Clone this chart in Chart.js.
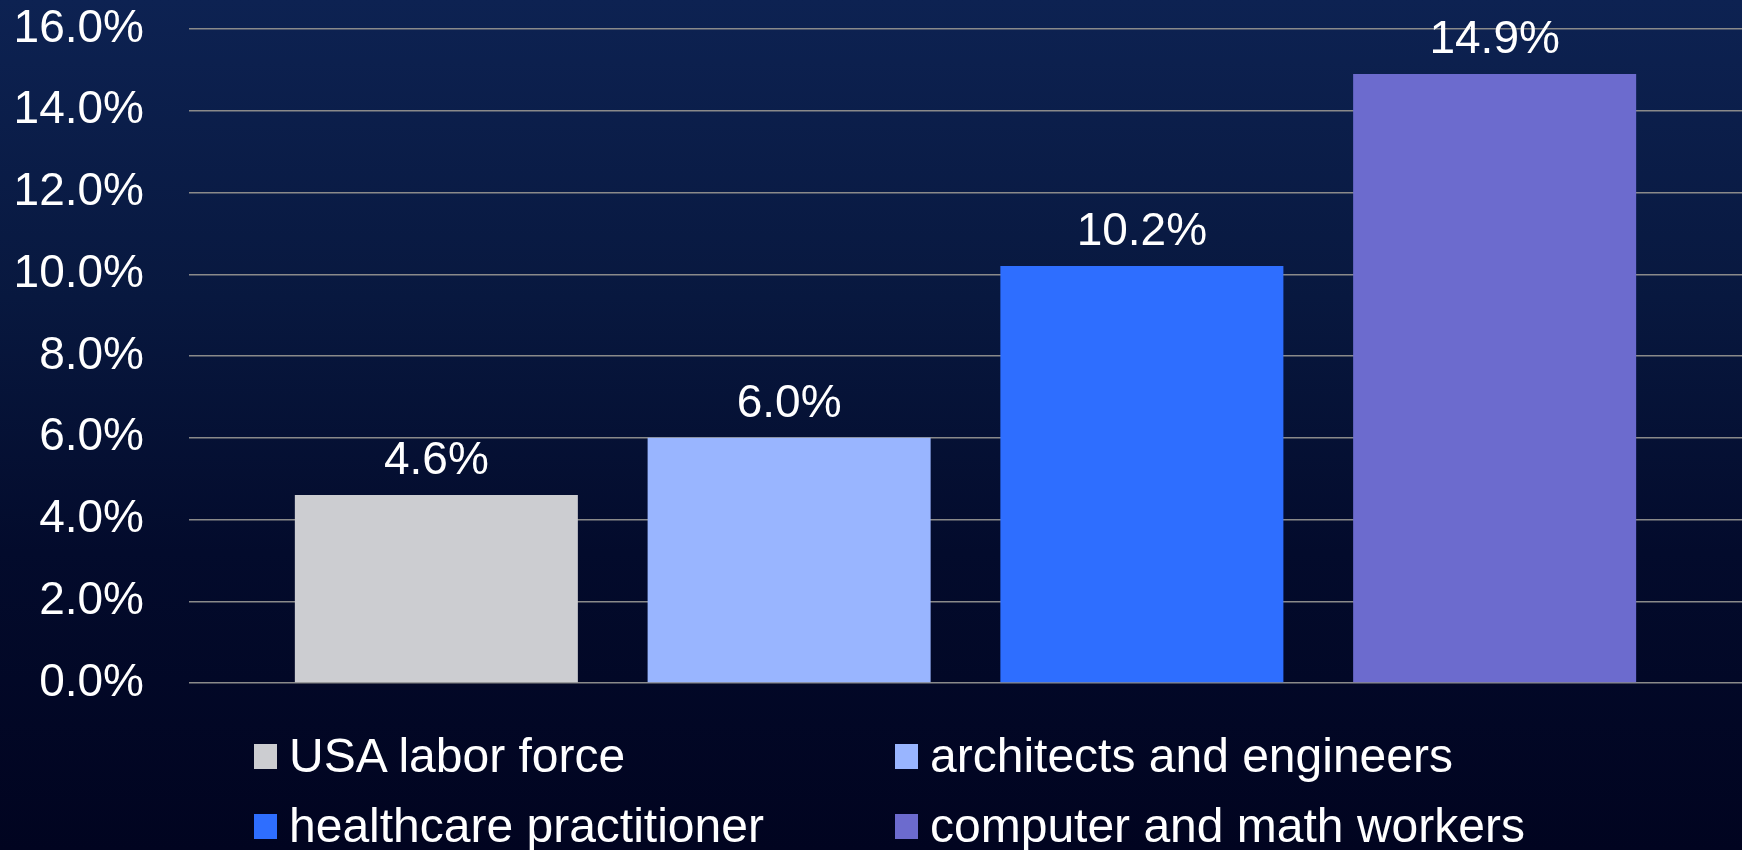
<!DOCTYPE html>
<html>
<head>
<meta charset="utf-8">
<script src="https://cdn.jsdelivr.net/npm/chart.js@4"></script>
<style>
    html, body {
        margin: 0;
        padding: 0;
        width: 1742px;
        height: 850px;
        overflow: hidden;
    }

    body {
        background: linear-gradient(to bottom, #0d2252 0%, #08183f 35%, #030b2c 65%, #010420 100%);
        font-family: "Liberation Sans", Arial, sans-serif;
        position: relative;
    }

    #wrap {
        position: absolute;
        left: 0;
        top: 0;
        width: 1742px;
        height: 850px;
    }

    #leyenda {
        position: absolute;
        left: 254px;
        top: 721px;
        display: grid;
        grid-template-columns: 641px 600px;
        grid-auto-rows: 70px;
        color: #ffffff;
        font-size: 48px;
        line-height: 70px;
    }

    .item {
        display: flex;
        align-items: center;
        white-space: nowrap;
    }

    .caja {
        width: 23px;
        height: 25px;
        margin-right: 12px;
        flex: none;
    }
</style>
</head>
<body>
<div id="wrap"><canvas id="grafico"></canvas></div>
<div id="leyenda"></div>

<script>
const series = ["USA labor force", "architects and engineers", "healthcare practitioner", "computer and math workers"];
const valores = [4.6, 6.0, 10.2, 14.9];
const colores = ["#cccdd1", "#99b5ff", "#2e6eff", "#6c6bce"];
const categorias = [""];
const ticksY = [0, 2, 4, 6, 8, 10, 12, 14, 16];

const fuente = "'Liberation Sans', Arial, sans-serif";

// Etiquetas de valor encima de cada barra.
const etiquetasBarras = {
    id: "etiquetasBarras",
    afterDatasetsDraw(chart) {
        const ctx = chart.ctx;
        ctx.save();
        ctx.fillStyle = "#ffffff";
        ctx.font = `46px ${fuente}`;
        ctx.textAlign = "center";
        ctx.textBaseline = "alphabetic";

        chart.data.datasets.forEach((ds, i) => {
            const meta = chart.getDatasetMeta(i);
            meta.data.forEach((barra, j) => {
                ctx.fillText(`${Number(ds.data[j]).toFixed(1)}%`, barra.x, barra.y - 21);
            });
        });

        ctx.restore();
    }
};

new Chart(document.getElementById("grafico"), {
    type: "bar",

    data: {
        labels: categorias,
        datasets: series.map((nombre, i) => ({
            label: nombre,
            data: [valores[i]],
            backgroundColor: colores[i],
            borderWidth: 0,
            categoryPercentage: 0.9086,
            barPercentage: 0.8023
        }))
    },

    options: {
        responsive: true,
        maintainAspectRatio: false,
        animation: false,
        devicePixelRatio: 1,

        layout: {
            padding: { top: 29, right: 0, bottom: 167, left: 0 }
        },

        plugins: {
            legend: { display: false },
            tooltip: { enabled: false }
        },

        scales: {
            x: {
                display: false
            },

            y: {
                min: 0,
                max: 16,
                afterBuildTicks: scale => {
                    scale.ticks = ticksY.map(v => ({ value: v }));
                },
                afterFit: scale => {
                    scale.width = 189;
                    scale.paddingTop = 0;
                    scale.paddingBottom = 0;
                },
                border: { display: false },
                grid: {
                    color: "#8a8a8a",
                    lineWidth: 1.5,
                    drawTicks: false
                },
                ticks: {
                    color: "#ffffff",
                    padding: 45,
                    font: { family: fuente, size: 46 },
                    callback: v => `${Number(v).toFixed(1)}%`
                }
            }
        }
    },

    plugins: [etiquetasBarras]
});

// Leyenda en HTML para alinear las columnas.
const leyenda = document.getElementById("leyenda");
series.forEach((nombre, i) => {
    const item = document.createElement("div");
    item.className = "item";

    const caja = document.createElement("span");
    caja.className = "caja";
    caja.style.background = colores[i];

    item.appendChild(caja);
    item.appendChild(document.createTextNode(nombre));
    leyenda.appendChild(item);
});
</script>
</body>
</html>
